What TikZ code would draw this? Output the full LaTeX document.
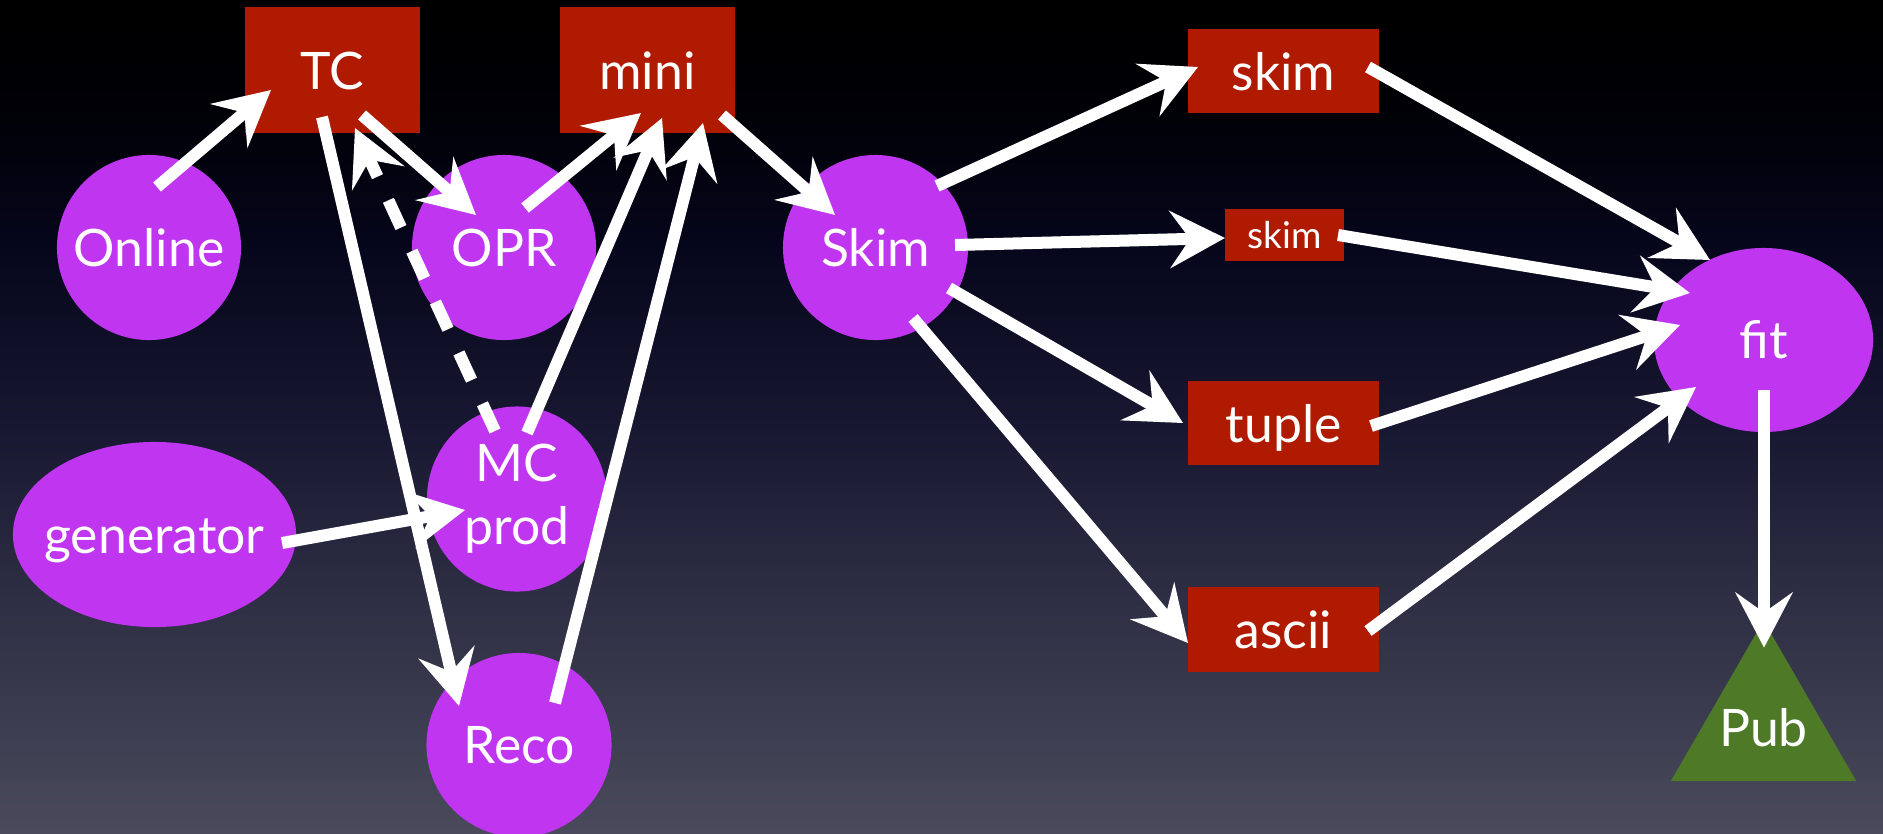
\documentclass[tikz,border=0pt]{standalone}
\usepackage{fontspec}
\setmainfont{Lato}
\usetikzlibrary{arrows.meta,shapes.geometric}
\definecolor{blobpurple}{RGB}{191,53,240}
\definecolor{boxred}{RGB}{176,26,0}
\definecolor{pubgreen}{RGB}{78,122,40}
\definecolor{bgA}{RGB}{74,74,92}
\definecolor{bgB}{RGB}{46,46,68}
\definecolor{bgC}{RGB}{24,24,50}
\definecolor{bgD}{RGB}{6,6,28}
\definecolor{bgE}{RGB}{0,0,5}
\pgfdeclareverticalshading{slidebg}{100bp}{color(0bp)=(bgA); color(25bp)=(bgA); color(39bp)=(bgB); color(49bp)=(bgC); color(60bp)=(bgD); color(69bp)=(bgE); color(75bp)=(black); color(100bp)=(black)}
\begin{document}
\begin{tikzpicture}[x=0.01cm, y=-0.01cm, font=\fontsize{14.7}{17.9}\selectfont,
  blob/.style={ellipse, fill=blobpurple, text=white, inner xsep=-0.3cm, inner ysep=0pt, align=center},
  box/.style={rectangle, fill=boxred, text=white, inner sep=0pt, text height=0.38cm, text depth=0pt},
  wide/.style={minimum width=1.91cm, minimum height=0.84cm},
  tri/.style={regular polygon, regular polygon sides=3, fill=pubgreen, inner sep=0pt, outer sep=0pt},
  flow/.style={draw=white, line width=0.12cm, -{Stealth[length=0.55cm, width=0.57cm, inset=0.2cm]}}]
\useasboundingbox (0,0) rectangle (1883,833);
\shade[shading=slidebg] (0,0) rectangle (1883,833);

\node (tc) at (332.5,70) [box, minimum width=1.75cm, minimum height=1.26cm] {TC};
\node (mini) at (647.5,70) [box, minimum width=1.75cm, minimum height=1.26cm] {mini};
\node (online) at (149,247.5) [blob, minimum width=1.84cm, minimum height=1.85cm] {Online};
\node (opr) at (504,247.5) [blob, minimum width=1.84cm, minimum height=1.85cm] {OPR};
\node (gen) at (154.5,534.5) [blob, minimum width=2.83cm, minimum height=1.85cm, text height=0.37cm, text depth=0pt] {generator};
\node (mc) at (517,499) [blob, minimum width=1.8cm, minimum height=1.85cm] {MC\\prod};
\node (reco) at (519,745) [blob, minimum width=1.85cm, minimum height=1.84cm] {Reco};
\node (skim) at (875.5,247.5) [blob, minimum width=1.85cm, minimum height=1.85cm] {Skim};
\node (skimA) at (1283.5,71) [box, wide] {skim};
\node (skimB) at (1284.5,235) [box, minimum width=1.19cm, minimum height=0.52cm, text height=0.27cm, font=\fontsize{10.5}{12}\selectfont] {skim};
\node (tuple) at (1283.5,423) [box, wide] {tuple};
\node (ascii) at (1283.5,629.5) [box, wide] {ascii};
\node (fit) at (1763.5,340) [blob, minimum width=2.19cm, minimum height=1.84cm] {fit};
\node (pub) at (1763.5,727.6) [tri, minimum size=2.14cm, label={[text=white]center:Pub}] {};

\draw[flow] ([shift={(8,-60.5)}]online.center) -- ([shift={(-61.5,20)}]tc.center);
\draw[flow] ([shift={(29.5,45)}]tc.center) -- ([shift={(-28,-32.5)}]opr.center);
\draw[flow] ([shift={(-10.5,47)}]tc.center) -- ([shift={(-60,-39)}]reco.center);
\draw[flow, dash pattern=on 0.3cm off 0.26cm] ([shift={(-22,-68)}]mc.center) -- ([shift={(22.5,58)}]tc.center);
\draw[flow] ([shift={(21,-39.5)}]opr.center) -- ([shift={(-6.5,43)}]mini.center);
\draw[flow] ([shift={(10,-66)}]mc.center) -- ([shift={(14.5,48)}]mini.center);
\draw[flow] ([shift={(36,-42)}]reco.center) -- ([shift={(55.5,53)}]mini.center);
\draw[flow] ([shift={(127.5,8.5)}]gen.center) -- ([shift={(-52,11)}]mc.center);
\draw[flow] ([shift={(74.5,45)}]mini.center) -- ([shift={(-40.5,-32.5)}]skim.center);
\draw[flow] ([shift={(61.5,-61.5)}]skim.center) -- ([shift={(-85.5,-4)}]skimA.center);
\draw[flow] ([shift={(79.5,-2.5)}]skim.center) -- ([shift={(-59.5,3)}]skimB.center);
\draw[flow] ([shift={(73.5,40.5)}]skim.center) -- ([shift={(-100.5,0)}]tuple.center);
\draw[flow] ([shift={(37.5,70.5)}]skim.center) -- ([shift={(-95.5,13.5)}]ascii.center);
\draw[flow] ([shift={(84.5,-4)}]skimA.center) -- ([shift={(-53.5,-80)}]fit.center);
\draw[flow] ([shift={(53.5,0)}]skimB.center) -- ([shift={(-73.5,-47)}]fit.center);
\draw[flow] ([shift={(87.5,3)}]tuple.center) -- ([shift={(-83.5,-15)}]fit.center);
\draw[flow] ([shift={(84.5,1.5)}]ascii.center) -- ([shift={(-67.5,47)}]fit.center);
\draw[flow] ([shift={(0.5,50)}]fit.center) -- ([shift={(0.5,-80)}]pub.center);
\end{tikzpicture}
\end{document}
